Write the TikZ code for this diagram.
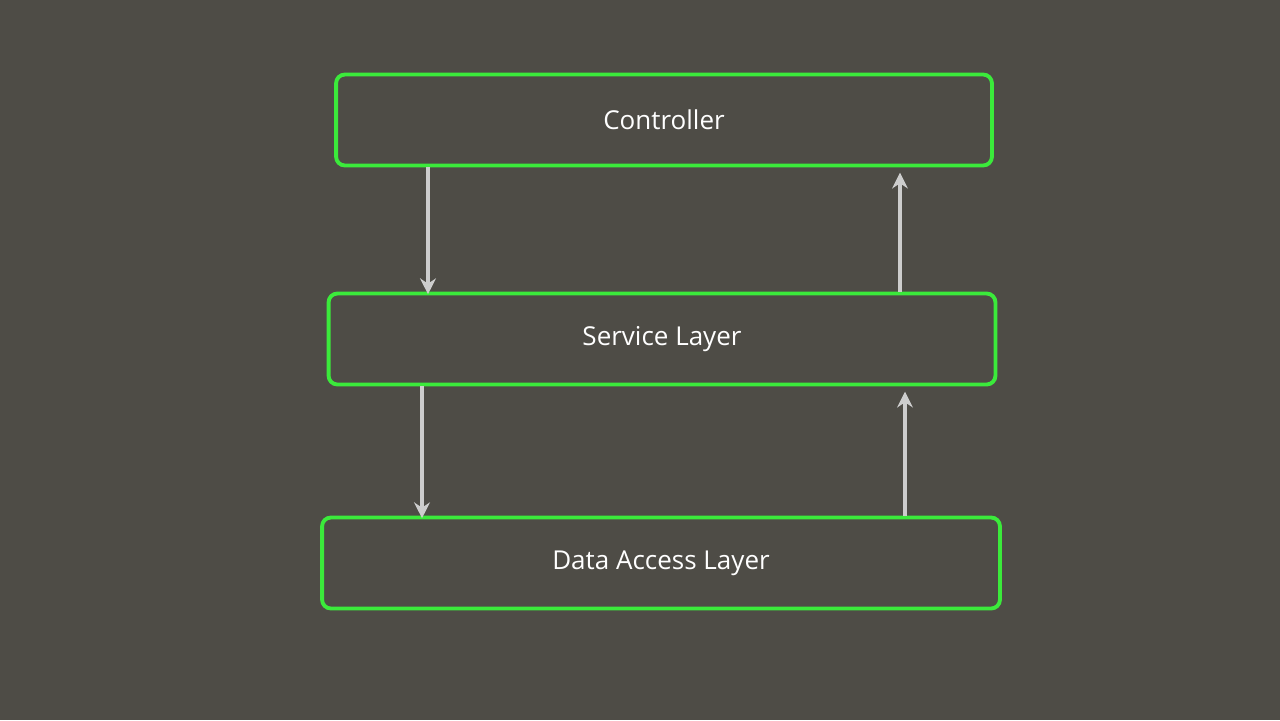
\documentclass[tikz,border=0pt]{standalone}
\usepackage{fontspec}
\setmainfont{Open Sans}
\usetikzlibrary{arrows.meta}
\definecolor{bg}{HTML}{4E4C46}
\definecolor{boxgreen}{HTML}{3BEA3B}
\definecolor{arrowgray}{HTML}{CDCDCD}
\tikzset{
  layer/.style={draw=boxgreen, line width=2.2pt, rounded corners=5pt, minimum height=1.82cm, text=white, font=\fontsize{14.8}{17}\selectfont},
  flow/.style={draw=arrowgray, line width=1.8pt, -{Stealth[length=9pt,width=9pt,inset=3pt]}}
}
\begin{document}
\begin{tikzpicture}[x=0.02cm,y=-0.02cm]
\fill[bg] (0,0) rectangle (1280,720);
\useasboundingbox (0,0) rectangle (1280,720);
\node[layer, minimum width=13.12cm] (ctrl) at (664,120) {Controller};
\node[layer, minimum width=13.34cm] (svc) at (662,339) {Service Layer};
\node[layer, minimum width=13.56cm] (dal) at (661,563) {Data Access Layer};
\draw[flow] (ctrl.south -| 428,0) -- ([yshift=-1.5pt]svc.north -| 428,0);
\draw[flow] (svc.north -| 900,0) -- ([yshift=-3pt]ctrl.south -| 900,0);
\draw[flow] (svc.south -| 422,0) -- ([yshift=-1.5pt]dal.north -| 422,0);
\draw[flow] (dal.north -| 905,0) -- ([yshift=-3pt]svc.south -| 905,0);
\end{tikzpicture}
\end{document}
